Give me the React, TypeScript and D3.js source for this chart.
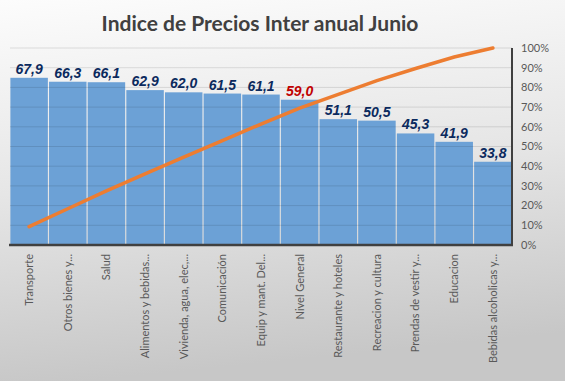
import React from "react";
import * as d3 from "d3";

const categories = [
  "Transporte",
  "Otros bienes y...",
  "Salud",
  "Alimentos y bebidas...",
  "Vivienda, agua, elec,...",
  "Comunicación",
  "Equip y mant. Del...",
  "Nivel General",
  "Restaurante y hoteles",
  "Recreacion y cultura",
  "Prendas de vestir y...",
  "Educacion",
  "Bebidas alcoholicas y...",
];
const values = [67.9, 66.3, 66.1, 62.9, 62.0, 61.5, 61.1, 59.0, 51.1, 50.5, 45.3, 41.9, 33.8];
const labels = ["67,9", "66,3", "66,1", "62,9", "62,0", "61,5", "61,1", "59,0", "51,1", "50,5", "45,3", "41,9", "33,8"];
const cumulativePct = [9.3, 18.4, 27.5, 36.1, 44.6, 53.0, 61.4, 69.5, 76.5, 83.4, 89.6, 95.4, 100];
const pctTicks = [0, 10, 20, 30, 40, 50, 60, 70, 80, 90, 100];
const highlight = "Nivel General";
const title = "Indice de Precios Inter anual Junio";

const W = 565;
const H = 381;
const left = 10;
const right = 512;
const top = 48;
const bottom = 245;

export default function App() {
  const x = d3.scaleBand<string>().domain(categories).range([left, right]).paddingInner(0.03).paddingOuter(0.01);
  const yL = d3.scaleLinear().domain([0, 80]).range([bottom, top]);
  const yR = d3.scaleLinear().domain([0, 100]).range([bottom, top]);
  const cx = (c: string) => (x(c) as number) + x.bandwidth() / 2;
  const line = d3
    .line<number>()
    .x((_, i) => cx(categories[i]))
    .y((d) => yR(d));

  return (
    <svg width={W} height={H} style={{ position: "absolute", left: 0, top: 0 }} xmlns="http://www.w3.org/2000/svg">
      <defs>
        <linearGradient id="bg" x1="0" y1="0" x2="0.15" y2="1">
          <stop offset="0" stopColor="#fcfcfc" />
          <stop offset="0.5" stopColor="#e6e6e6" />
          <stop offset="1" stopColor="#c7c7c7" />
        </linearGradient>
      </defs>
      <rect x={0} y={0} width={W} height={H} fill="url(#bg)" />
      <text x={260} y={31} textAnchor="middle" fontFamily="Lato" fontWeight="bold" fontSize={21} fill="#404040">
        {title}
      </text>
      {categories.map((c, i) => (
        <rect key={c} x={x(c)} y={yL(values[i])} width={x.bandwidth()} height={bottom - yL(values[i])} fill="#6ca1d6" />
      ))}
      {pctTicks.slice(1).map((t) => (
        <line key={t} x1={left} x2={right} y1={yR(t)} y2={yR(t)} stroke="rgba(0,0,0,0.11)" strokeWidth={1} />
      ))}
      <path d={line(cumulativePct) || ""} fill="none" stroke="#ed7d31" strokeWidth={3.5} strokeLinecap="round" />
      <line x1={9} x2={right + 1} y1={bottom} y2={bottom} stroke="#404040" strokeWidth={2.5} />
      <line x1={right} x2={right} y1={top} y2={bottom + 1} stroke="#404040" strokeWidth={2} />
      {pctTicks.map((t) => (
        <text key={t} x={521} y={yR(t)} dy="0.35em" fontFamily="Lato" fontSize={11} fill="#595959">
          {t}%
        </text>
      ))}
      {categories.map((c, i) => (
        <text
          key={c}
          x={cx(c)}
          y={yL(values[i]) - 4}
          textAnchor="middle"
          fontFamily="Liberation Sans"
          fontWeight="bold"
          fontStyle="italic"
          fontSize={14}
          fill={c === highlight ? "#c00000" : "#0b2a5e"}
        >
          {labels[i]}
        </text>
      ))}
      {categories.map((c) => (
        <text
          key={c}
          transform={`translate(${cx(c)},254) rotate(-90)`}
          textAnchor="end"
          dy="0.35em"
          fontFamily="Lato"
          fontSize={11}
          fill="#595959"
        >
          {c}
        </text>
      ))}
    </svg>
  );
}
